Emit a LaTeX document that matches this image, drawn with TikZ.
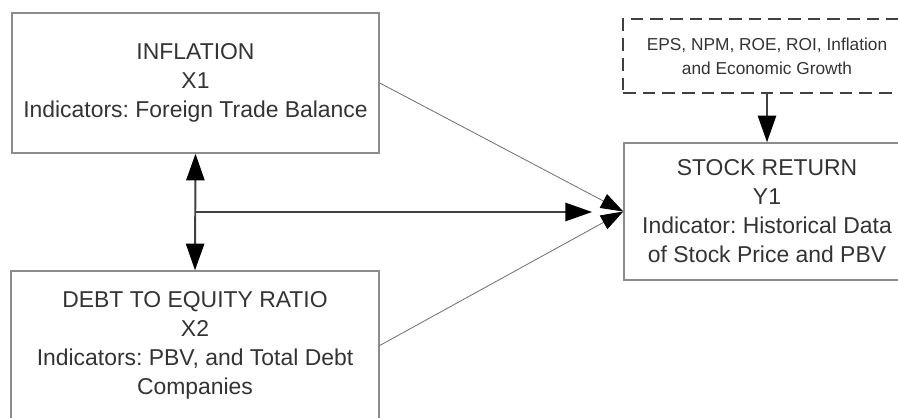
\documentclass[tikz,border=0pt]{standalone}
\usepackage{fontspec}
\setmainfont{Liberation Sans}
\usepackage{tikz}
\usetikzlibrary{positioning,arrows.meta,calc}
\frenchspacing

\begin{document}
\begin{tikzpicture}[x=0.025cm,y=-0.025cm,
                    >={Triangle[length=19pt,width=13pt,color=black]},
                    font=\fontsize{16.3}{20.6}\selectfont]
  \tikzstyle{var}=[draw=black!45,line width=1pt,text=black!80,align=center,inner sep=0pt]
  \tikzstyle{ctrl}=[var,dash pattern=on 9pt off 5pt,line width=1.5pt,draw=black!75,
                    font=\fontsize{12.3}{17}\selectfont]
  \tikzstyle{thin link}=[-{Triangle[length=16pt,width=11pt,color=black]},draw=black!55,line width=0.6pt]
  \tikzstyle{bold link}=[draw=black!75,line width=1.4pt]

  \useasboundingbox (0,0) rectangle (898,418);
  \clip (0,0) rectangle (898,418);

  \node[var,minimum width=9.175cm,minimum height=3.5cm]   (X1)   at (195.5,83)  {INFLATION\\X1\\Indicators: Foreign Trade Balance};
  \node[var,minimum width=9.2cm,minimum height=3.725cm]   (X2)   at (195,345.5) {DEBT TO EQUITY RATIO\\X2\\Indicators: PBV, and Total Debt\\Companies};
  \node[var,minimum width=7.15cm,minimum height=3.425cm]  (Y1)   at (767,211.5) {STOCK RETURN\\Y1\\Indicator: Historical Data\\of Stock Price and PBV};
  \node[ctrl,minimum width=7.2cm,minimum height=1.85cm]   (ctrl) at (767,56)    {EPS, NPM, ROE, ROI, Inflation\\and Economic Growth};

  \coordinate (mid) at ($(X1.south)!0.5!(X2.north)$);
  \coordinate (hend) at ([xshift=-0.78cm]Y1.west |- mid);

  \draw[thin link] (X1.east) -- (Y1.west);
  \draw[thin link] (X2.east) -- (Y1.west);
  \draw[bold link,<->] (X1.south) -- (X2.north);
  \draw[bold link,->] (mid) -- (hend);
  \draw[bold link,->] (ctrl.south) -- (Y1.north);
\end{tikzpicture}
\end{document}
